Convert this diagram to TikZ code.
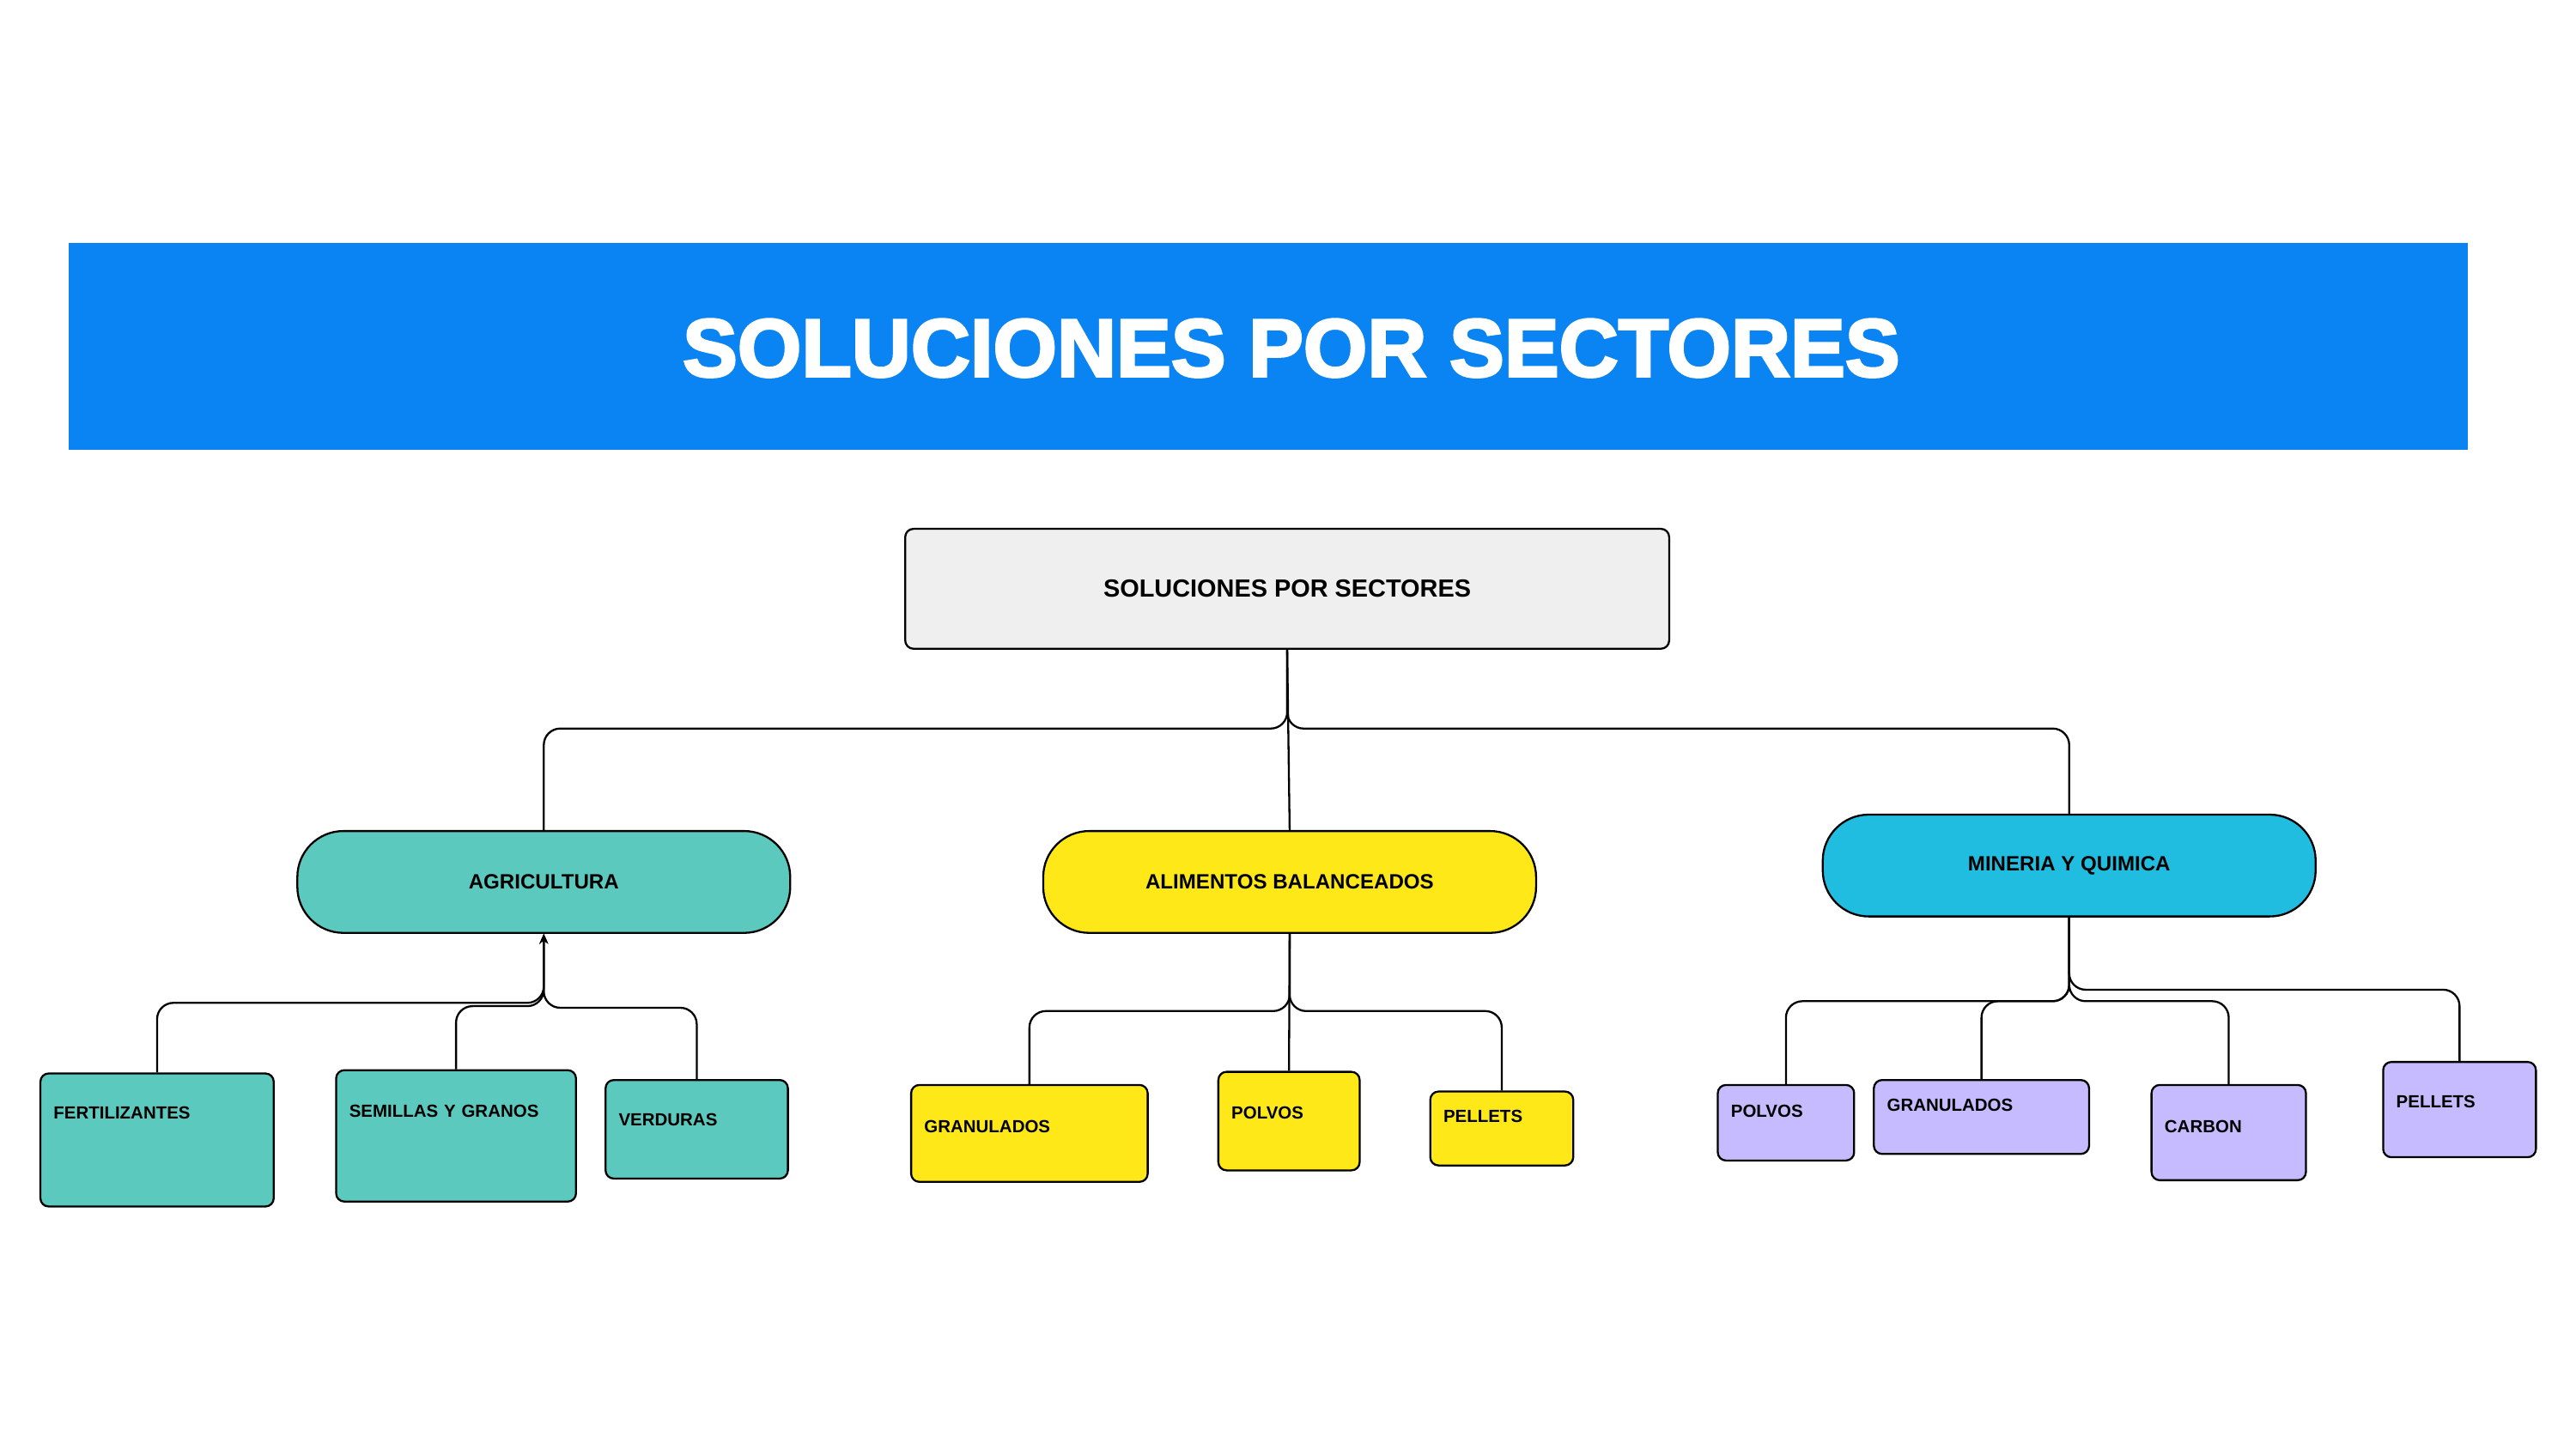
\documentclass[tikz,border=0pt]{standalone}
\usepackage{fontspec}
\setmainfont{Liberation Sans}
\newfontfamily\heavyfont[FakeBold=3]{Liberation Sans Bold}
\usetikzlibrary{positioning,arrows.meta,calc}

\definecolor{bannerblue}{HTML}{0A84F2}
\definecolor{rootgrey}{HTML}{EFEFEF}
\definecolor{agri}{HTML}{5BC9BE}
\definecolor{alim}{HTML}{FFE817}
\definecolor{mine}{HTML}{21BDE0}
\definecolor{lila}{HTML}{C6BBFE}

\begin{document}
\begin{tikzpicture}[
		x=0.5pt, y=-0.5pt,
		>={Stealth[length=3pt,width=2.6pt]},
		box/.style={
			draw,
			line width=0.6pt
		},
		sector/.style={
			box,
			rounded corners=14pt,
			minimum width=150pt,
			minimum height=31pt,
			inner sep=0pt,
			font=\fontsize{6.3}{7}\selectfont\bfseries
		},
		leaf/.style n args={3}{
			box,
			rounded corners=2.5pt,
			anchor=north west,
			inner xsep=4pt,
			inner ysep=0pt,
			align=left,
			text width=#1,
			text height=#2,
			text depth=#3,
			font=\fontsize{5.35}{6}\selectfont\bfseries
		},
		link/.style={
			line width=0.6pt,
			rounded corners=5pt
		}
		]
		
		\useasboundingbox (0,0) rectangle (1568,882);
		
		%--------------------------------------------------
		% Nodes
		%--------------------------------------------------
		
		\node[fill=bannerblue, minimum width=730pt, minimum height=63pt, inner sep=0pt] (banner) at (772,211) {};
		
		\node[text=white, font=\heavyfont\fontsize{25}{30}\selectfont] (title) at (786,212)
		{SOLUCIONES POR SECTORES};
		
		\node[box, fill=rootgrey, rounded corners=2.5pt, minimum width=232.5pt, minimum height=36.5pt,
		font=\fontsize{7.55}{9}\selectfont\bfseries] (root) at (783.5,358.5)
		{SOLUCIONES POR SECTORES};
		
		\node[sector, fill=agri] (agri) at (331,537)
		{AGRICULTURA};
		
		\node[sector, fill=alim] (alim) at (785,537)
		{ALIMENTOS BALANCEADOS};
		
		\node[sector, fill=mine] (mine) at (1259.5,527)
		{MINERIA Y QUIMICA};
		
		\node[leaf={63pt}{13.9pt}{26.6pt}, fill=agri] (fert) at (24,653)
		{FERTILIZANTES};
		
		\node[leaf={65pt}{14.4pt}{25.6pt}, fill=agri] (semi) at (204,651)
		{SEMILLAS Y GRANOS};
		
		\node[leaf={47.5pt}{13.9pt}{16.1pt}, fill=agri] (verd) at (368,657)
		{VERDURAS};
		
		\node[leaf={64pt}{14.4pt}{15.1pt}, fill=alim] (agran) at (554,660)
		{GRANULADOS};
		
		\node[leaf={35pt}{14.4pt}{15.6pt}, fill=alim] (apol) at (741,652)
		{POLVOS};
		
		\node[leaf={35.5pt}{9.4pt}{13.1pt}, fill=alim] (apel) at (870,664)
		{PELLETS};
		
		\node[leaf={33.5pt}{9.9pt}{13.1pt}, fill=lila] (mpol) at (1045,660)
		{POLVOS};
		
		\node[leaf={57.5pt}{9.4pt}{13.1pt}, fill=lila] (mgran) at (1140,657)
		{GRANULADOS};
		
		\node[leaf={39pt}{14.4pt}{14.6pt}, fill=lila] (mcarb) at (1309,660)
		{CARBON};
		
		\node[leaf={38.5pt}{13.9pt}{15.1pt}, fill=lila] (mpel) at (1450,646)
		{PELLETS};
		
		%--------------------------------------------------
		% Connections
		%--------------------------------------------------
		
		\draw[link] (root.south) -- ++(0,48) -| (agri.north);
		
		\draw[link] (root.south) -- ++(0,48) -| (mine.north);
		
		\draw[link] (root.south) -- (alim.north);
		
		\draw[link,->] (fert.north) |- ($(agri.south)+(0,42)$) -- (agri.south);
		
		\draw[link,->] (semi.north) |- ($(agri.south)+(0,44)$) -- (agri.south);
		
		\draw[link,->] (verd.north) |- ($(agri.south)+(0,45)$) -- (agri.south);
		
		\draw[link] (alim.south) -- ++(0,47) -| (agran.north);
		
		\draw[link] (alim.south) -- (apol.north);
		
		\draw[link] (alim.south) -- ++(0,47) -| (apel.north);
		
		\draw[link] (mine.south) -- ++(0,51) -| (mpol.north);
		
		\draw[link] (mine.south) -- ++(0,51) -| (mgran.north);
		
		\draw[link] (mine.south) -- ++(0,51) -| (mcarb.north);
		
		\draw[link] (mine.south) -- ++(0,44) -| (mpel.north);
		
	\end{tikzpicture}
\end{document}
